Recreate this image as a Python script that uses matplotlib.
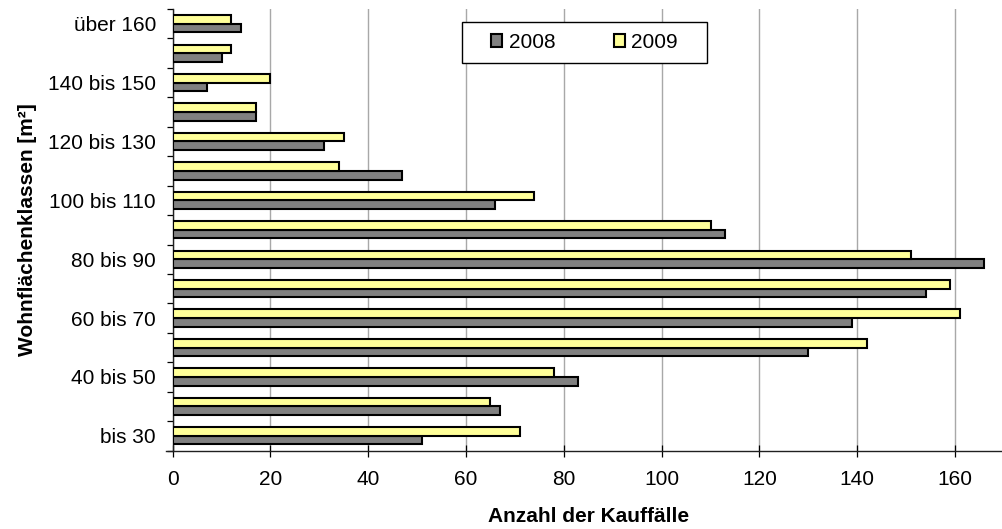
import matplotlib
matplotlib.use("Agg")
import matplotlib.pyplot as plt
from matplotlib.patches import Rectangle
import numpy as np

plt.rcParams['font.family'] = ['Liberation Sans', 'DejaVu Sans']

# Wohnflächenklassen, von unten nach oben
klassen = ['bis 30', '30 bis 40', '40 bis 50', '50 bis 60', '60 bis 70',
           '70 bis 80', '80 bis 90', '90 bis 100', '100 bis 110', '110 bis 120',
           '120 bis 130', '130 bis 140', '140 bis 150', '150 bis 160', 'über 160']
faelle_2008 = [51, 67, 83, 130, 139, 154, 166, 113, 66, 47, 31, 17, 7, 10, 14]
faelle_2009 = [71, 65, 78, 142, 161, 159, 151, 110, 74, 34, 35, 17, 20, 12, 12]
x_ticks = [0, 20, 40, 60, 80, 100, 120, 140, 160]

fig = plt.figure(figsize=(10.02, 5.29), dpi=100)
ax = fig.add_axes([0.1723, 0.1483, 0.8296, 0.8346])

y = np.arange(len(klassen))
h = 0.294
ax.barh(y - h / 2, faelle_2008, height=h, color='#808080', edgecolor='black',
        linewidth=1.5, label='2008', zorder=3)
ax.barh(y + h / 2, faelle_2009, height=h, color='#FFFF99', edgecolor='black',
        linewidth=1.5, label='2009', zorder=3)

ax.set_xlim(0, 170)
ax.set_ylim(-0.5, len(klassen) - 0.5)
ax.set_xticks(x_ticks)
ax.xaxis.grid(True, color='#a8a8a8', linewidth=1.0, zorder=0)
ax.set_axisbelow(True)

# Striche zwischen den Klassen, Beschriftung nur jede zweite Klasse
ax.set_yticks(np.arange(-0.5, len(klassen), 1.0))
ax.set_yticklabels([])
ax.set_yticks(y[::2], minor=True)
ax.set_yticklabels(klassen[::2], minor=True)
ax.tick_params(axis='y', which='major', length=4.5, width=0.9, direction='out')
ax.tick_params(axis='y', which='minor', length=0, pad=12, labelsize=15)
ax.tick_params(axis='x', length=8.5, width=0.9, direction='inout', pad=9.5, labelsize=15)

for s in ['top', 'right']:
    ax.spines[s].set_visible(False)
for s in ['left', 'bottom']:
    ax.spines[s].set_linewidth(1.0)
    ax.spines[s].set_color('#202020')
# x-Achse ragt links etwas über die y-Achse hinaus
ax.spines['bottom'].set_bounds(-1.35, 170)

ax.set_xlabel('Anzahl der Kauffälle', fontsize=15, fontweight='bold')
ax.xaxis.set_label_coords(0.5, -0.128)
ax.set_ylabel('Wohnflächenklassen [m²]', fontsize=15, fontweight='bold')
ax.yaxis.set_label_coords(-0.163, 0.5)

# Legende mit eigenem Rahmen
box = Rectangle((0.348, 0.8776), 0.295, 0.0934, transform=ax.transAxes,
                facecolor='white', edgecolor='black', linewidth=1.0, zorder=4)
ax.add_patch(box)
leg = ax.legend(loc='center', bbox_to_anchor=(0.4955, 0.9243), ncol=2,
                frameon=False, fontsize=15, handlelength=0.55, handleheight=0.55,
                handletextpad=0.3, columnspacing=2.8, borderpad=0, borderaxespad=0)
leg.set_zorder(5)

fig.savefig('out.png', dpi=100)
